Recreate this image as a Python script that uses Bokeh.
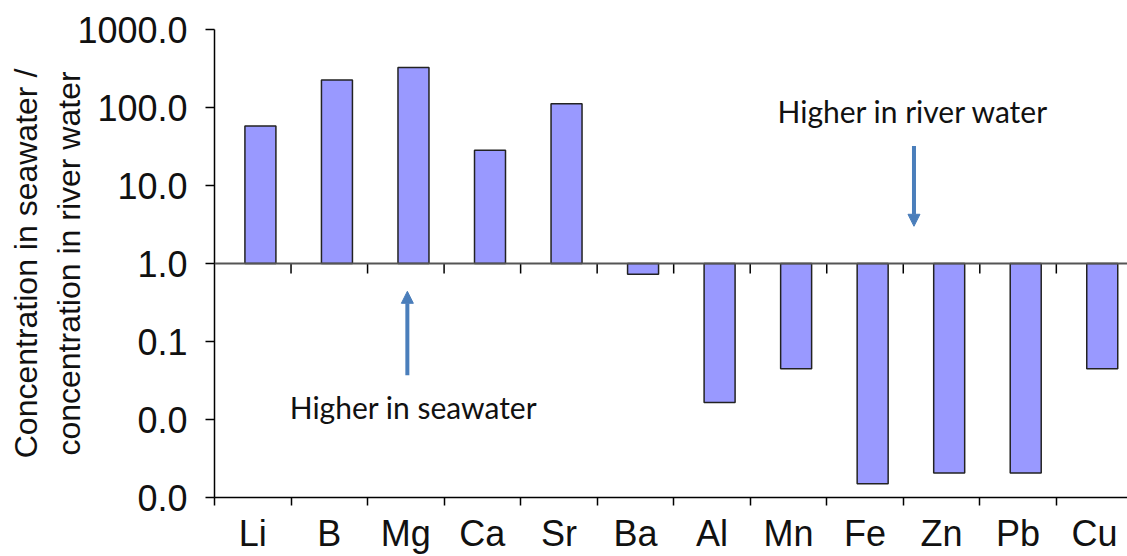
from bokeh.plotting import figure
from bokeh.models import (Range1d, LogAxis, LinearAxis, FixedTicker, Span, Arrow,
                          NormalHead, ColumnDataSource, Label)
from bokeh.embed import file_html
from bokeh.resources import INLINE
import numpy as np

elements = ["Li", "B", "Mg", "Ca", "Sr", "Ba", "Al", "Mn", "Fe", "Zn", "Pb", "Cu"]
ratios = [58, 226, 326, 28.4, 112, 0.73, 0.0165, 0.0447, 0.0015, 0.00206, 0.00206, 0.0447]
y_ticks = [0.001, 0.01, 0.1, 1, 10, 100, 1000]
y_tick_labels = ["0.0", "0.0", "0.1", "1.0", "10.0", "100.0", "1000.0"]
baseline = 1.0

n = len(elements)
centers = np.arange(n) + 0.5
bounds = np.arange(n + 1)

src = ColumnDataSource(dict(x=centers + 0.1, top=ratios, bottom=[baseline] * n))

p = figure(width=1127, height=556, output_backend="svg", toolbar_location=None,
           y_axis_type="log", x_range=Range1d(0, 11.93), y_range=Range1d(0.001, 1000),
           min_border_left=214, min_border_top=29, min_border_bottom=40, min_border_right=0,
           x_axis_location=None, y_axis_location=None)
p.outline_line_color = None
p.xgrid.visible = False
p.ygrid.visible = False
p.background_fill_color = "white"
p.border_fill_color = "white"

FONT = "Liberation Sans"
TXT = "#111111"

# y axis
ya = LogAxis(ticker=FixedTicker(ticks=y_ticks, minor_ticks=[]),
             major_label_overrides={t: l for t, l in zip(y_ticks, y_tick_labels)})
ya.axis_label = "Concentration in seawater /\nconcentration in river water"
ya.axis_label_text_font = FONT
ya.axis_label_text_font_size = "32px"
ya.axis_label_text_font_style = "normal"
ya.axis_label_text_color = TXT
ya.axis_label_standoff = -13
ya.major_label_text_font = FONT
ya.major_label_text_font_size = "36px"
ya.major_label_text_color = TXT
ya.major_label_standoff = 18
ya.major_tick_out = 9
ya.major_tick_in = 0
ya.major_tick_line_width = 1.5
ya.major_tick_line_color = "black"
ya.axis_line_width = 1.5
ya.axis_line_color = "black"
p.add_layout(ya, "left")

# x axis with boundary ticks
xa = LinearAxis(ticker=FixedTicker(ticks=list(centers), minor_ticks=list(bounds)),
                major_label_overrides={float(c): e for c, e in zip(centers, elements)})
xa.major_tick_line_color = None
xa.minor_tick_out = 8
xa.minor_tick_in = 0
xa.minor_tick_line_color = "black"
xa.minor_tick_line_width = 1.5
xa.axis_line_color = "black"
xa.axis_line_width = 1.5
xa.major_label_text_font = FONT
xa.major_label_text_font_size = "36px"
xa.major_label_text_color = TXT
xa.major_label_standoff = 7
p.add_layout(xa, "below")

# bars from baseline 1.0
p.vbar(x="x", top="top", bottom="bottom", width=0.405, source=src,
       fill_color="#9999FF", line_color="#222222", line_width=1.5)

# baseline at 1.0 with boundary ticks
p.add_layout(Span(location=baseline, dimension="width", line_color="#555555", line_width=2))
p.segment(x0=bounds[1:-1], x1=bounds[1:-1], y0=[baseline] * (n - 1),
          y1=[baseline * 10 ** (-10 / 78)] * (n - 1), line_color="black", line_width=1.5)

# annotations
ARROW = "#4A7EBB"
p.add_layout(Arrow(end=NormalHead(size=12, fill_color=ARROW, line_color=ARROW),
                   x_start=9.14, y_start=32, x_end=9.14, y_end=3.0,
                   line_color=ARROW, line_width=4))
p.add_layout(Arrow(end=NormalHead(size=12, fill_color=ARROW, line_color=ARROW),
                   x_start=2.52, y_start=0.037, x_end=2.52, y_end=0.44,
                   line_color=ARROW, line_width=4))
p.add_layout(Label(x=9.13, y=91, text="Higher in river water", text_font="Lato",
                   text_font_size="30px", text_align="center", text_baseline="middle",
                   text_color="#111111"))
p.add_layout(Label(x=2.6, y=0.0143, text="Higher in seawater", text_font="Lato",
                   text_font_size="30px", text_align="center", text_baseline="middle",
                   text_color="#111111"))

open("out.html", "w").write(file_html(p, INLINE))
